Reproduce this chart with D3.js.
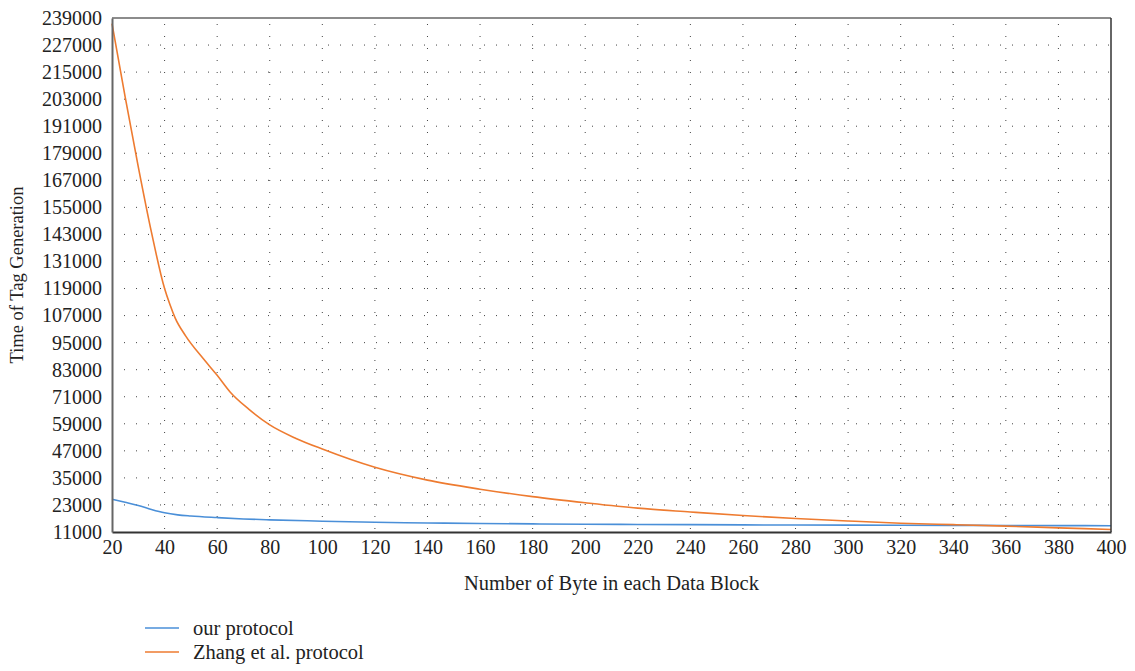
<!DOCTYPE html>
<html>
<head>
<meta charset="utf-8">
<script src="https://cdn.jsdelivr.net/npm/d3@7"></script>
<style>
  body { margin: 0; background: #fff; }
</style>
</head>
<body>
<script>
// values
let ourX = [20, 25, 30, 35, 40, 45, 50, 60, 70, 80, 100, 120, 140, 160, 180, 200, 220, 240, 260, 280, 300, 320, 340, 360, 380, 400];
let ourY = [25500, 24200, 22800, 21000, 19500, 18600, 18100, 17400, 16800, 16400, 15800, 15300, 15000, 14800, 14600, 14450, 14350, 14250, 14150, 14100, 14050, 14000, 13950, 13900, 13850, 13800];

let zhangX = [20, 25, 30, 35, 40, 42, 44, 48, 55, 60, 65, 72, 80, 90, 100, 120, 140, 160, 180, 200, 220, 240, 260, 280, 300, 320, 340, 360, 380, 400];
let zhangY = [236500, 204000, 173000, 144000, 119000, 112000, 106000, 98000, 87500, 80500, 73000, 65500, 58500, 52500, 47800, 39700, 34000, 30000, 26700, 24000, 21600, 19900, 18300, 17000, 15900, 14900, 14250, 13600, 12850, 12100];

let xTicks = d3.range(20, 401, 20);
let yTicks = d3.range(11000, 239001, 12000);

let seriesNames = ["our protocol", "Zhang et al. protocol"];
let seriesColors = ["#4a8fd8", "#ee7b30"];

let serif = '"Liberation Serif", "Times New Roman", "DejaVu Serif", serif';

let W = 1135, H = 671;
let margin = {left: 112, right: 24, top: 18, bottom: 139};
let w = W - margin.left - margin.right;
let h = H - margin.top - margin.bottom;

let svg = d3.select("body").append("svg").attr("width", W).attr("height", H);
let g = svg.append("g").attr("transform", "translate(" + margin.left + "," + margin.top + ")");

let x = d3.scaleLinear().domain([20, 400]).range([0, w]);
let y = d3.scaleLinear().domain([11000, 239000]).range([h, 0]);

// dotted grid
g.append("g").selectAll("line")
  .data(yTicks.slice(1, -1))
  .enter().append("line")
    .attr("x1", 0).attr("x2", w)
    .attr("y1", d => y(d)).attr("y2", d => y(d))
    .attr("stroke", "#444").attr("stroke-width", 1)
    .attr("stroke-dasharray", "1,11").attr("stroke-dashoffset", -12);

g.append("g").selectAll("line")
  .data(xTicks.slice(1, -1))
  .enter().append("line")
    .attr("x1", d => x(d)).attr("x2", d => x(d))
    .attr("y1", 0).attr("y2", h)
    .attr("stroke", "#444").attr("stroke-width", 1)
    .attr("stroke-dasharray", "1,11").attr("stroke-dashoffset", -6);

// lines
let line = d3.line().x(d => x(d[0])).y(d => y(d[1])).curve(d3.curveMonotoneX);
let series = [d3.zip(ourX, ourY), d3.zip(zhangX, zhangY)];

g.selectAll("path.series")
  .data(series)
  .enter().append("path")
    .attr("class", "series")
    .attr("fill", "none")
    .attr("stroke", (d, i) => seriesColors[i])
    .attr("stroke-width", 1.6)
    .attr("d", line);

// frame
g.append("line").attr("x1", 0).attr("x2", w).attr("y1", 0).attr("y2", 0).attr("stroke", "#666").attr("stroke-width", 1.5);
g.append("line").attr("x1", w).attr("x2", w).attr("y1", 0).attr("y2", h).attr("stroke", "#333").attr("stroke-width", 1.5);

// axes
let xAxis = d3.axisBottom(x).tickValues(xTicks).tickSize(0).tickPadding(8).tickFormat(d3.format("d"));
let yAxis = d3.axisLeft(y).tickValues(yTicks).tickSize(0).tickPadding(10).tickFormat(d3.format("d"));

let gx = g.append("g").attr("transform", "translate(0," + h + ")").call(xAxis)
  .attr("font-family", serif).attr("font-size", 20);
gx.select(".domain").attr("stroke", "#333").attr("stroke-width", 2);
gx.selectAll("text").attr("fill", "#222");

let gy = g.append("g").call(yAxis)
  .attr("font-family", serif).attr("font-size", 20);
gy.select(".domain").attr("stroke", "#666").attr("stroke-width", 2);
gy.selectAll("text").attr("fill", "#222");

// titles
svg.append("text")
  .attr("x", margin.left + w / 2).attr("y", 590)
  .attr("text-anchor", "middle")
  .attr("font-family", serif).attr("font-size", 20.5).attr("fill", "#222")
  .text("Number of Byte in each Data Block");

svg.append("text")
  .attr("transform", "translate(23," + (margin.top + h / 2) + ") rotate(-90)")
  .attr("text-anchor", "middle")
  .attr("font-family", serif).attr("font-size", 18.5).attr("fill", "#222")
  .text("Time of Tag Generation");

// legend
let legend = svg.append("g").selectAll("g")
  .data(seriesNames)
  .enter().append("g")
    .attr("transform", (d, i) => "translate(145," + (628 + i * 24) + ")");

legend.append("line")
  .attr("x1", 0).attr("x2", 34)
  .attr("stroke", (d, i) => seriesColors[i]).attr("stroke-width", 1.4);

legend.append("text")
  .attr("x", 48).attr("dy", "0.32em")
  .attr("font-family", serif).attr("font-size", 20.5).attr("fill", "#222")
  .text(d => d);
</script>
</body>
</html>
